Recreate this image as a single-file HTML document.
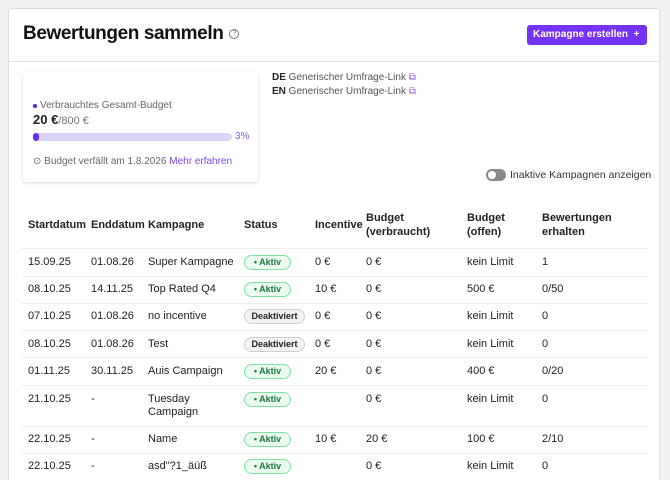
<!DOCTYPE html>
<html><head><meta charset="utf-8"><style>
*{margin:0;padding:0;box-sizing:border-box}
html,body{width:670px;height:480px;overflow:hidden}
body{background:#f0f1f3;font-family:"Liberation Sans",sans-serif;position:relative;color:#222}
.card{position:absolute;left:8px;top:8px;width:652px;height:472px;background:#fff;border:1px solid #dcdde0;border-bottom:none;border-radius:3px 3px 0 0}
.a{position:absolute;white-space:nowrap}
.t{font-size:11px;color:#222}
.h{font-size:11px;font-weight:bold;color:#222;line-height:14px}
.line{position:absolute;left:22px;width:626px;height:1px;background:#eceef0}
.badge{position:absolute;height:15px;border-radius:8px;font-size:9px;font-weight:bold;line-height:13px;text-align:center}
.ak{width:47px;background:#ebfbef;border:1px solid #7ee2a0;color:#1c7a3c}
.de{width:61px;background:#f2f2f3;border:1px solid #cfd0d3;color:#222}
.q{display:inline-block;vertical-align:middle;margin-left:6px;width:10px;height:10px;border:1px solid #777;border-radius:50%;font-size:7px;line-height:8px;text-align:center;color:#777;font-weight:normal;letter-spacing:0}
</style></head><body>
<div class="card"></div>
<div class="a" style="left:23px;top:23px;font-size:19px;font-weight:bold;color:#111;letter-spacing:-0.4px">Bewertungen sammeln<span class="q">?</span></div>
<div class="a" style="left:527px;top:25px;width:120px;height:20px;background:#7533f5;border-radius:3px;color:#fff;font-size:10px;font-weight:bold;line-height:20px;padding-left:6px">Kampagne erstellen &nbsp;+</div>
<div class="a" style="left:9px;top:61px;width:650px;height:1px;background:#e2e3e6"></div>
<div class="a" style="left:23px;top:72px;width:235px;height:110px;background:#fff;border-radius:3px;box-shadow:0 1px 3px rgba(0,0,0,.15)"></div>
<div class="a" style="left:33px;top:104px;width:4px;height:4px;border-radius:50%;background:#5b21e0"></div>
<div class="a" style="left:40px;top:100px;font-size:10px;color:#666">Verbrauchtes Gesamt-Budget</div>
<div class="a" style="left:33px;top:112px;font-size:13px;font-weight:bold;color:#222">20 €<span style="font-weight:normal;font-size:11px;color:#777">/800 €</span></div>
<div class="a" style="left:33px;top:133px;width:199px;height:8px;border-radius:4px;background:#dcd3fb"></div>
<div class="a" style="left:33px;top:133px;width:6px;height:8px;border-radius:3px;background:#6a2bf0"></div>
<div class="a" style="left:235px;top:131px;font-size:10px;color:#8a5cf0">3%</div>
<div class="a" style="left:33px;top:156px;font-size:10px;color:#666">⊙ Budget verfällt am 1.8.2026 <span style="color:#7a45f0">Mehr erfahren</span></div>
<div class="a" style="left:272px;top:72px;font-size:10px;color:#555"><b style="color:#222">DE</b> Generischer Umfrage-Link <span style="color:#8a5cf0">⧉</span></div>
<div class="a" style="left:272px;top:86px;font-size:10px;color:#555"><b style="color:#222">EN</b> Generischer Umfrage-Link <span style="color:#8a5cf0">⧉</span></div>
<div class="a" style="left:486px;top:169px;width:20px;height:12px;border-radius:6px;background:#888"></div>
<div class="a" style="left:488px;top:171px;width:8px;height:8px;border-radius:50%;background:#fff"></div>
<div class="a" style="left:510px;top:169px;font-size:10.5px;color:#333">Inaktive Kampagnen anzeigen</div>

<div class="a h" style="left:28px;top:218px">Startdatum</div>
<div class="a h" style="left:91px;top:218px">Enddatum</div>
<div class="a h" style="left:148px;top:218px">Kampagne</div>
<div class="a h" style="left:244px;top:218px">Status</div>
<div class="a h" style="left:315px;top:218px">Incentive</div>
<div class="a h" style="left:366px;top:211px">Budget<br>(verbraucht)</div>
<div class="a h" style="left:467px;top:211px">Budget<br>(offen)</div>
<div class="a h" style="left:542px;top:211px">Bewertungen<br>erhalten</div>

<div class="line" style="top:248px"></div>
<div class="line" style="top:276px"></div>
<div class="line" style="top:303px"></div>
<div class="line" style="top:330px"></div>
<div class="line" style="top:357px"></div>
<div class="line" style="top:385px"></div>
<div class="line" style="top:426px"></div>
<div class="line" style="top:453px"></div>

<div class="a t" style="left:28px;top:256px">15.09.25</div><div class="a t" style="left:91px;top:256px">01.08.26</div><div class="a t" style="left:148px;top:256px">Super Kampagne</div><div class="badge ak" style="left:244px;top:255px">• Aktiv</div><div class="a t" style="left:315px;top:256px">0 €</div><div class="a t" style="left:366px;top:256px">0 €</div><div class="a t" style="left:467px;top:256px">kein Limit</div><div class="a t" style="left:542px;top:256px">1</div>

<div class="a t" style="left:28px;top:283px">08.10.25</div><div class="a t" style="left:91px;top:283px">14.11.25</div><div class="a t" style="left:148px;top:283px">Top Rated Q4</div><div class="badge ak" style="left:244px;top:282px">• Aktiv</div><div class="a t" style="left:315px;top:283px">10 €</div><div class="a t" style="left:366px;top:283px">0 €</div><div class="a t" style="left:467px;top:283px">500 €</div><div class="a t" style="left:542px;top:283px">0/50</div>

<div class="a t" style="left:28px;top:310px">07.10.25</div><div class="a t" style="left:91px;top:310px">01.08.26</div><div class="a t" style="left:148px;top:310px">no incentive</div><div class="badge de" style="left:244px;top:309px">Deaktiviert</div><div class="a t" style="left:315px;top:310px">0 €</div><div class="a t" style="left:366px;top:310px">0 €</div><div class="a t" style="left:467px;top:310px">kein Limit</div><div class="a t" style="left:542px;top:310px">0</div>

<div class="a t" style="left:28px;top:338px">08.10.25</div><div class="a t" style="left:91px;top:338px">01.08.26</div><div class="a t" style="left:148px;top:338px">Test</div><div class="badge de" style="left:244px;top:337px">Deaktiviert</div><div class="a t" style="left:315px;top:338px">0 €</div><div class="a t" style="left:366px;top:338px">0 €</div><div class="a t" style="left:467px;top:338px">kein Limit</div><div class="a t" style="left:542px;top:338px">0</div>

<div class="a t" style="left:28px;top:365px">01.11.25</div><div class="a t" style="left:91px;top:365px">30.11.25</div><div class="a t" style="left:148px;top:365px">Auis Campaign</div><div class="badge ak" style="left:244px;top:364px">• Aktiv</div><div class="a t" style="left:315px;top:365px">20 €</div><div class="a t" style="left:366px;top:365px">0 €</div><div class="a t" style="left:467px;top:365px">400 €</div><div class="a t" style="left:542px;top:365px">0/20</div>

<div class="a t" style="left:28px;top:393px">21.10.25</div><div class="a t" style="left:91px;top:393px">-</div><div class="a t" style="left:148px;top:393px;line-height:13px">Tuesday<br>Campaign</div><div class="badge ak" style="left:244px;top:392px">• Aktiv</div><div class="a t" style="left:366px;top:393px">0 €</div><div class="a t" style="left:467px;top:393px">kein Limit</div><div class="a t" style="left:542px;top:393px">0</div>

<div class="a t" style="left:28px;top:433px">22.10.25</div><div class="a t" style="left:91px;top:433px">-</div><div class="a t" style="left:148px;top:433px">Name</div><div class="badge ak" style="left:244px;top:432px">• Aktiv</div><div class="a t" style="left:315px;top:433px">10 €</div><div class="a t" style="left:366px;top:433px">20 €</div><div class="a t" style="left:467px;top:433px">100 €</div><div class="a t" style="left:542px;top:433px">2/10</div>

<div class="a t" style="left:28px;top:460px">22.10.25</div><div class="a t" style="left:91px;top:460px">-</div><div class="a t" style="left:148px;top:460px">asd"?1_äüß</div><div class="badge ak" style="left:244px;top:459px">• Aktiv</div><div class="a t" style="left:366px;top:460px">0 €</div><div class="a t" style="left:467px;top:460px">kein Limit</div><div class="a t" style="left:542px;top:460px">0</div>
</body></html>
